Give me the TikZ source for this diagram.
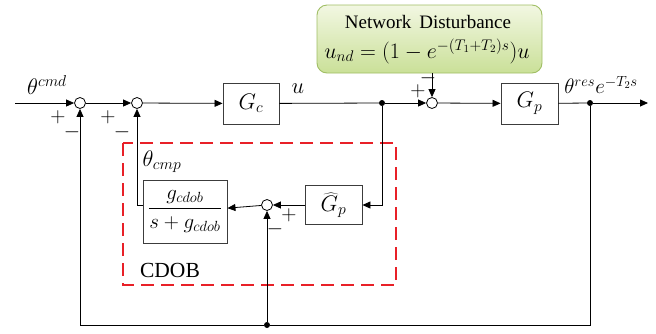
\RequirePackage{fix-cm}
\documentclass[tikz,border=0pt]{standalone}
\usepackage{fontspec}
\setmainfont{Liberation Serif}
\usetikzlibrary{arrows.meta,calc}
\definecolor{dred}{RGB}{232,32,40}
\definecolor{gtop}{RGB}{242,247,226}
\definecolor{gbot}{RGB}{202,224,152}
\definecolor{gedge}{RGB}{160,190,100}
\definecolor{bx}{RGB}{60,60,60}
\begin{document}
\begin{tikzpicture}[x=1pt,y=-1pt,
  blk/.style={draw=bx,line width=0.9pt,fill=white,minimum width=#1,inner sep=0pt},
  sumnode/.style={circle,draw=black,line width=0.8pt,fill=white,minimum size=11pt,inner sep=0pt},
  dotnode/.style={circle,fill=black,minimum size=6pt,inner sep=0pt},
  wire/.style={line width=0.8pt,draw=black},
  arr/.style={wire,-{Triangle[length=8pt,width=7pt]}},
  mtxt/.style={font=\fontsize{22.5}{26}\selectfont,inner sep=0pt},
  sgn/.style={font=\fontsize{21}{24}\selectfont,inner sep=0pt},
  ]
\useasboundingbox (0,0) rectangle (656,333);
% disturbance box
\node[draw=gedge,line width=0.9pt,rounded corners=10pt,top color=gtop,bottom color=gbot,
      minimum width=225pt,minimum height=68pt,inner sep=0pt] (nd) at (429.5,39) {};
\node[inner sep=0pt,font=\fontsize{19}{21}\selectfont] (ndt) at (428,22) {Network\, Disturbance};
\node[inner sep=0pt,font=\fontsize{22}{26}\selectfont] (nde) at (427,51) {$u_{nd}=\bigl(1-e^{-(T_1+T_2)s}\bigr)u$};
% CDOB dashed region
\draw[dred,line width=2.5pt,dash pattern=on 13pt off 7pt] (123,143) rectangle (396,285);
% blocks
\node[blk=56pt,minimum height=41pt] (gc) at (251,103.5) {};
\node[mtxt] at (gc.center) {$G_c$};
\node[blk=57pt,minimum height=41pt] (gp) at (529.5,103.5) {};
\node[mtxt] at (gp.center) {$G_p$};
\node[blk=57pt,minimum height=39pt] (gh) at (333.5,205) {};
\node[mtxt] at (gh.center) {$\widehat{G}_p$};
\node[blk=84pt,minimum height=63pt] (fb) at (185,211.5) {};
\node[inner sep=0pt,font=\fontsize{21}{24}\selectfont] at (fb.center) {$\displaystyle\frac{g_{cdob}}{s+g_{cdob}}$};
% sums
\node[sumnode] (s1) at (80,103) {};
\node[sumnode] (s2) at (137,103) {};
\node[sumnode] (s3) at (432,103) {};
\node[sumnode] (s4) at (267,205) {};
\node[dotnode] (j1) at (382,103) {};
\node[dotnode] (j2) at (590,103) {};
\node[dotnode] (j3) at (267,325) {};
\coordinate (in) at (15,103);
\coordinate (out) at (648,103);
\coordinate (c1) at (382,205);
\coordinate (c2) at (137,205);
\coordinate (c3) at (590,325);
\coordinate (c4) at (80,325);
% wires
\draw[arr] (in) -- (s1);
\draw[arr] (s1) -- (s2);
\draw[arr] (s2) -- (gc);
\draw[wire] (gc) -- (j1);
\draw[arr] (j1) -- (s3);
\draw[arr] (s3) -- (gp);
\draw[wire] (gp) -- (j2);
\draw[arr] (j2) -- (out);
\draw[arr] (nd.south -| s3) -- (s3);
\draw[arr] (j1) -- (c1) -- (gh);
\draw[arr] (gh) -- (s4);
\draw[arr] (s4) -- (fb);
\draw[arr] (fb.west |- c2) -- (c2) -- (s2);
\draw[wire] (j2) -- (c3) -- (j3);
\draw[arr] (j3) -- (c4) -- (s1);
\draw[arr] (j3) -- (s4);
% labels
\node[mtxt] (l1) at (47,85) {$\theta^{cmd}$};
\node[mtxt] (l2) at (298,89) {$u$};
\node[mtxt,font=\fontsize{21}{24}\selectfont] (l3) at (601,85) {$\theta^{res}e^{-T_2s}$};
\node[mtxt] (l4) at (162,162) {$\theta_{cmp}$};
\node[inner sep=0pt,font=\fontsize{21.5}{24}\selectfont] (l5) at (170,270) {CDOB};
% signs
\node[sgn] at (58,117) {$+$};
\node[sgn] at (72,132) {$-$};
\node[sgn] at (108,117) {$+$};
\node[sgn] at (122,132) {$-$};
\node[sgn] at (418,91) {$+$};
\node[sgn] at (428,78) {$-$};
\node[sgn] at (289,215) {$+$};
\node[sgn] at (275,229) {$-$};
\end{tikzpicture}
\end{document}
